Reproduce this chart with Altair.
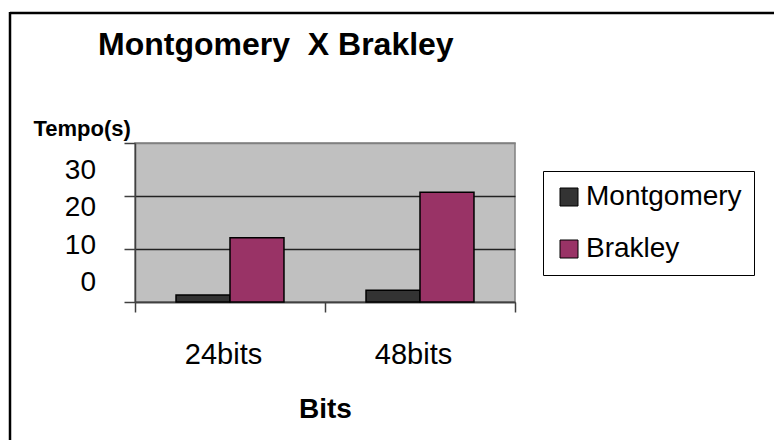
import altair as alt
import pandas as pd

# ---- data ----
title_text = "Montgomery\u00a0 X Brakley"
categories = ["24bits", "48bits"]
series = ["Montgomery", "Brakley"]
montgomery = [1.3, 2.2]
brakley = [12.1, 20.7]
y_ticks = [0, 10, 20, 30]
y_tick_labels = ["0", "10", "20", "30"]
colors = ["#333333", "#993366"]

rows = []
for i, c in enumerate(categories):
    rows.append({"Bits": c, "Serie": series[0], "Tempo": montgomery[i]})
    rows.append({"Bits": c, "Serie": series[1], "Tempo": brakley[i]})
df = pd.DataFrame(rows)
tick_df = pd.DataFrame({"v": y_ticks, "t": y_tick_labels})

FONT = "Liberation Sans"
W, H = 380, 159

bars = alt.Chart(df).mark_bar(stroke="black", strokeWidth=1.5).encode(
    x=alt.X(
        "Bits:N",
        sort=categories,
        scale=alt.Scale(paddingInner=0, paddingOuter=0),
        axis=alt.Axis(
            title="Bits",
            labelAngle=0,
            labelFont=FONT,
            labelFontSize=29,
            labelColor="black",
            labelBaseline="alphabetic",
            labelPadding=51,
            labelOffset=-7,
            tickBand="extent",
            tickSize=10,
            tickColor="#404040",
            tickWidth=1.5,
            domainColor="#404040",
            domainWidth=1.5,
            titleFont=FONT,
            titleFontSize=28,
            titleFontWeight="bold",
            titleColor="black",
            titleX=190,
            titleY=115,
            titleAlign="center",
            titleBaseline="alphabetic",
        ),
    ),
    xOffset=alt.XOffset("Serie:N", sort=series, scale=alt.Scale(paddingInner=0, paddingOuter=0.76)),
    y=alt.Y(
        "Tempo:Q",
        scale=alt.Scale(domain=[0, 30], nice=False),
        axis=alt.Axis(
            values=y_ticks,
            labels=False,
            title="Tempo(s)",
            titleAngle=0,
            titleX=-102,
            titleY=-8,
            titleAlign="left",
            titleBaseline="alphabetic",
            titleFont=FONT,
            titleFontSize=22,
            titleFontWeight="bold",
            titleColor="black",
            tickSize=11,
            tickColor="#404040",
            tickWidth=1.5,
            domainColor="#404040",
            domainWidth=1.5,
            grid=True,
            gridColor={"condition": {"test": "datum.value >= 30", "value": "#808080"}, "value": "#222222"},
            gridWidth=1.5,
        ),
    ),
    color=alt.Color(
        "Serie:N",
        sort=series,
        scale=alt.Scale(domain=series, range=colors),
        legend=alt.Legend(
            title=None,
            orient="none",
            legendX=408,
            legendY=28,
            symbolType="square",
            symbolSize=324,
            symbolStrokeColor="black",
            symbolStrokeWidth=1,
            symbolOpacity=1,
            labelFont=FONT,
            labelFontSize=28,
            labelColor="black",
            labelOffset=3,
            rowPadding=24,
            padding=12,
            strokeColor="black",
            fillColor="white",
        ),
    ),
)

# y tick labels (offset from the gridlines, as in the reference)
ylabels = alt.Chart(tick_df).mark_text(
    align="right", baseline="middle", fontSize=28, font=FONT, color="black"
).encode(
    y=alt.Y("v:Q", scale=alt.Scale(domain=[-5.09, 37.5], nice=False, zero=False), axis=None),
    x=alt.value(-39),
    text="t:N",
)

one = alt.Data(values=[{"title": title_text}])
frame_top = alt.Chart(one).mark_rule(color="black", strokeWidth=2.5).encode(
    x=alt.value(-125), x2=alt.value(700), y=alt.value(-130)
)
frame_left = alt.Chart(one).mark_rule(color="black", strokeWidth=2.5).encode(
    x=alt.value(-125), y=alt.value(-131), y2=alt.value(400)
)
title_mark = alt.Chart(one).mark_text(
    align="left", baseline="alphabetic", font=FONT, fontSize=32, fontWeight="bold", color="black"
).encode(x=alt.value(-37), y=alt.value(-88), text="title:N")

chart = (
    alt.layer(frame_top, frame_left, title_mark, bars, ylabels)
    .resolve_scale(y="independent")
    .properties(
        width=W,
        height=H,
        autosize=alt.AutoSizeParams(type="none"),
        padding={"left": 127, "top": 135, "right": 259, "bottom": 138},
        background="white",
    )
    .configure_view(stroke="#808080", strokeWidth=1.5, fill="#C0C0C0")
)

chart.save("out.html", embed_options={"renderer": "svg", "actions": False})
